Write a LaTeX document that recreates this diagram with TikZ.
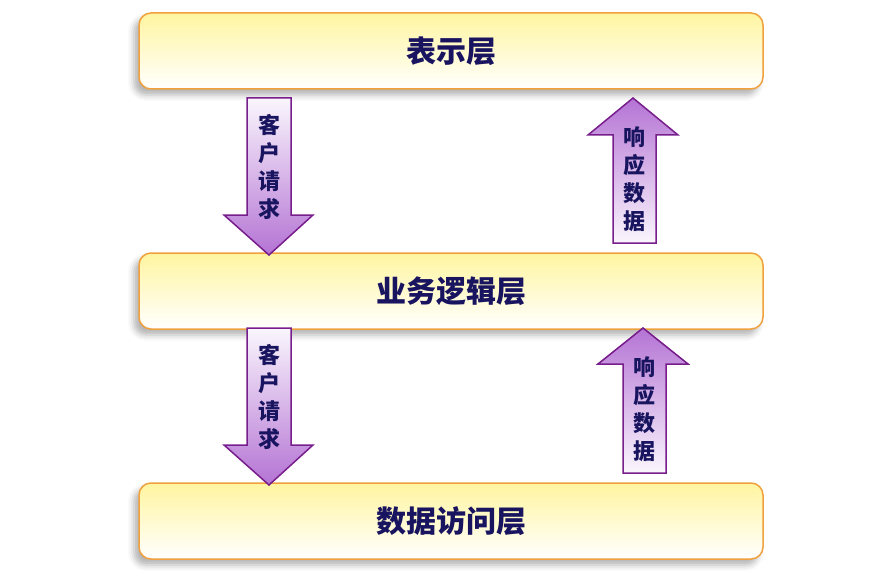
\documentclass[tikz,border=0pt]{standalone}
\usepackage{fontspec}
\setmainfont{Noto Sans CJK SC}
\usepackage{tikz}
\usetikzlibrary{shadows.blur}

\definecolor{boxline}{RGB}{240,160,60}
\definecolor{boxtop}{RGB}{255,245,160}
\definecolor{arrline}{RGB}{120,30,140}
\definecolor{arrdark}{RGB}{180,115,212}
\definecolor{arrmid}{RGB}{232,214,242}
\definecolor{arrlight}{RGB}{250,246,253}
\definecolor{txt}{RGB}{25,20,95}

\tikzset{
    layer/.style={draw=boxline, line width=1.5pt, rounded corners=12pt,
        top color=boxtop, bottom color=white,
        minimum width=624pt, minimum height=76pt,
        font=\bfseries\fontsize{30}{34}\selectfont, text=txt,
        blur shadow={shadow xshift=-5pt, shadow yshift=-6pt, shadow blur radius=6pt, shadow opacity=30}},
    arrtext/.style={font=\bfseries\fontsize{22}{28}\selectfont, text=txt, align=center}
}

\begin{document}
\begin{tikzpicture}[x=1pt,y=-1pt]
    \useasboundingbox (0,0) rectangle (880,588);

    % three layers
    \node[layer] (show) at (451,51) {表示层};
    \node[layer] (logic) at (451,291) {业务逻辑层};
    \node[layer] (data) at (451,521) {数据访问层};

    % requests going down
    \shade[draw=arrline, line width=1.5pt, top color=arrlight, middle color=arrmid, bottom color=arrdark]
        (247,98) -- (291,98) -- (291,215) -- (313,215) -- (269,255) -- (224,215) -- (247,215) -- cycle;
        \node[arrtext] (req1) at (269,167) {客\\户\\请\\求};
    \shade[draw=arrline, line width=1.5pt, top color=arrlight, middle color=arrmid, bottom color=arrdark]
        (247,328) -- (291,328) -- (291,445) -- (313,445) -- (269,485) -- (224,445) -- (247,445) -- cycle;
        \node[arrtext] (req2) at (269,397) {客\\户\\请\\求};

    % responses going up
    \shade[draw=arrline, line width=1.5pt, top color=arrdark, middle color=arrmid, bottom color=arrlight]
        (613,243) -- (656,243) -- (656,135) -- (678,135) -- (633,98) -- (588,135) -- (613,135) -- cycle;
        \node[arrtext] (resp1) at (634,179) {响\\应\\数\\据};
    \shade[draw=arrline, line width=1.5pt, top color=arrdark, middle color=arrmid, bottom color=arrlight]
        (623,473) -- (666,473) -- (666,364) -- (688,364) -- (643,328) -- (598,364) -- (623,364) -- cycle;
        \node[arrtext] (resp2) at (644,409) {响\\应\\数\\据};
\end{tikzpicture}
\end{document}
